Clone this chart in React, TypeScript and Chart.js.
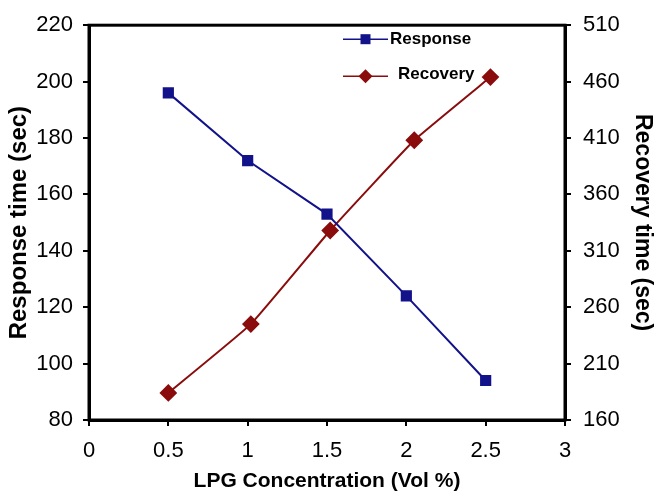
import { useEffect, useRef } from "react";
import { Chart, registerables } from "chart.js";

Chart.register(...registerables);

const responseConcentration = [0.5, 1, 1.5, 2, 2.5];
const responseTime = [196, 172, 153, 124, 94];
const recoveryConcentration = [0.5, 1.02, 1.52, 2.05, 2.53];
const recoveryTime = [184, 245, 328, 408, 464];
const seriesNames = ["Response", "Recovery"];
const xRange = [0, 3, 0.5];
const leftRange = [80, 220, 20];
const rightRange = [160, 510, 50];

const BLUE = "#12128a";
const RED = "#8a0c0c";
const FONT = "Liberation Sans, Arial, sans-serif";

const framePlugin = {
  id: "frame",
  afterDatasetsDraw(chart: any) {
    const { ctx, chartArea: a } = chart;
    ctx.save();
    ctx.strokeStyle = "#000";
    ctx.lineWidth = 3;
    ctx.strokeRect(a.left, a.top, a.right - a.left, a.bottom - a.top);
    ctx.restore();
  },
  afterDraw(chart: any) {
    const { ctx, chartArea: a } = chart;
    const x0 = a.left + 254;
    const x1 = a.left + 299;
    const xm = (x0 + x1) / 2;
    const rows = [
      { y: a.top + 14, color: BLUE, style: "rect", tx: a.left + 301, ty: a.top + 14 },
      { y: a.top + 51, color: RED, style: "rectRot", tx: a.left + 309, ty: a.top + 49 },
    ];
    ctx.save();
    rows.forEach((r, i) => {
      ctx.strokeStyle = r.color;
      ctx.lineWidth = 1.5;
      ctx.beginPath();
      ctx.moveTo(x0, r.y);
      ctx.lineTo(x1, r.y);
      ctx.stroke();
      ctx.fillStyle = r.color;
      if (r.style === "rect") {
        ctx.fillRect(xm - 5, r.y - 5, 10, 10);
      } else {
        ctx.beginPath();
        ctx.moveTo(xm, r.y - 7);
        ctx.lineTo(xm + 7, r.y);
        ctx.lineTo(xm, r.y + 7);
        ctx.lineTo(xm - 7, r.y);
        ctx.closePath();
        ctx.fill();
      }
      ctx.fillStyle = "#000";
      ctx.font = `bold 17px ${FONT}`;
      ctx.textBaseline = "middle";
      ctx.textAlign = "left";
      ctx.fillText(seriesNames[i], r.tx, r.ty);
    });
    ctx.restore();
  },
};

export default function App() {
  const ref = useRef<HTMLCanvasElement | null>(null);
  useEffect(() => {
    document.body.style.margin = "0";
    const canvas = ref.current;
    if (!canvas) return;
    const chart = new Chart(canvas, {
      type: "line",
      data: {
        datasets: [
          {
            label: seriesNames[0],
            data: responseConcentration.map((x, i) => ({ x, y: responseTime[i] })),
            borderColor: BLUE,
            backgroundColor: BLUE,
            borderWidth: 2,
            pointStyle: "rect",
            pointRadius: 6.5,
            pointHoverRadius: 6.5,
            yAxisID: "y",
          },
          {
            label: seriesNames[1],
            data: recoveryConcentration.map((x, i) => ({ x, y: recoveryTime[i] })),
            borderColor: RED,
            backgroundColor: RED,
            borderWidth: 2,
            pointStyle: "rectRot",
            pointRadius: 7.5,
            pointHoverRadius: 7.5,
            tension: 0.1,
            yAxisID: "y1",
          },
        ],
      },
      options: {
        animation: false,
        responsive: true,
        maintainAspectRatio: false,
        layout: { padding: { top: 21, left: 0, right: 0, bottom: 0 } },
        plugins: { legend: { display: false }, tooltip: { enabled: false } },
        scales: {
          x: {
            type: "linear",
            min: xRange[0],
            max: xRange[1],
            afterFit: (s: any) => {
              s.height = 76;
            },
            ticks: {
              stepSize: xRange[2],
              color: "#000",
              font: { family: FONT, size: 22 },
              padding: 12,
              callback: (v: any) => String(Number(v)),
            },
            grid: { drawOnChartArea: false, tickLength: 6, color: "#000", lineWidth: 2 },
            border: { color: "#000", width: 3 },
            title: {
              display: true,
              text: "LPG Concentration (Vol %)",
              color: "#000",
              font: { family: FONT, size: 21, weight: "bold" },
              padding: { top: 0, bottom: 2 },
            },
          },
          y: {
            position: "left",
            min: leftRange[0],
            max: leftRange[1],
            afterFit: (s: any) => {
              s.width = 89;
            },
            ticks: {
              stepSize: leftRange[2],
              color: "#000",
              font: { family: FONT, size: 22 },
              padding: 10,
            },
            grid: { drawOnChartArea: false, tickLength: 6, color: "#000", lineWidth: 2 },
            border: { color: "#000", width: 3 },
            title: {
              display: true,
              text: "Response time (sec)",
              color: "#000",
              font: { family: FONT, size: 24, weight: "bold" },
              padding: { top: 5, bottom: 0 },
            },
          },
          y1: {
            position: "right",
            min: rightRange[0],
            max: rightRange[1],
            afterFit: (s: any) => {
              s.width = 91;
            },
            ticks: {
              stepSize: rightRange[2],
              color: "#000",
              font: { family: FONT, size: 22 },
              padding: 12,
            },
            grid: { drawOnChartArea: false, tickLength: 6, color: "#000", lineWidth: 2 },
            border: { color: "#000", width: 3 },
            title: {
              display: true,
              text: "Recovery time (sec)",
              color: "#000",
              font: { family: FONT, size: 23, weight: "bold" },
              padding: { top: 0, bottom: 0 },
            },
          },
        },
      },
      plugins: [framePlugin],
    });
    return () => chart.destroy();
  }, []);
  return (
    <div style={{ width: 656, height: 496, position: "relative", background: "#fff" }}>
      <canvas ref={ref} />
    </div>
  );
}
